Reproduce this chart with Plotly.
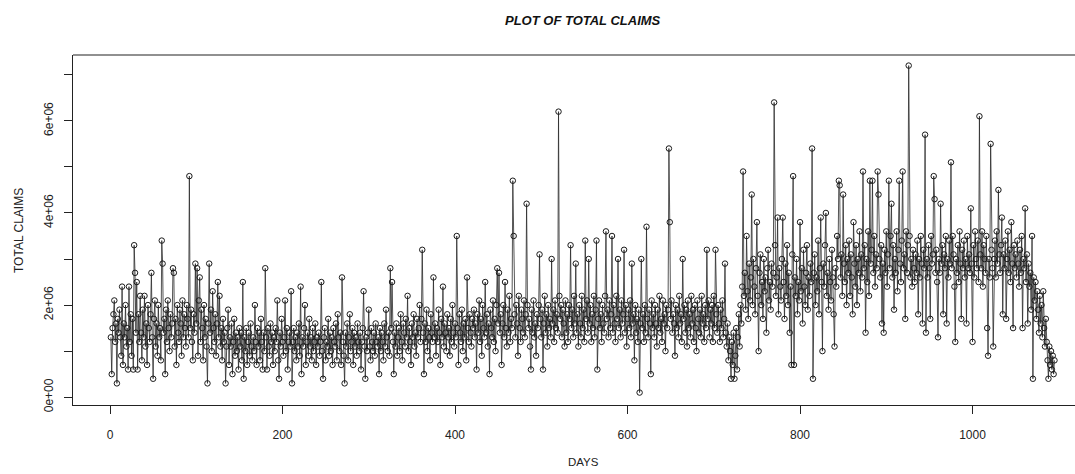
import plotly.graph_objects as go

# Daily total claims, in units of 100,000
claims_1e5 = [
    13, 5, 15, 18, 21, 12, 16, 3, 17, 14, 19, 13, 9, 24, 7,
    16, 13, 20, 11, 15, 6, 24, 12, 18, 9, 17, 6, 33, 27, 14,
    25, 6, 18, 12, 22, 14, 8, 19, 13, 22, 11, 16, 7, 20, 15,
    12, 18, 27, 13, 4, 17, 21, 11, 16, 9, 20, 13, 15, 8, 34,
    29, 14, 17, 5, 19, 12, 21, 15, 10, 18, 13, 16, 28, 27, 11,
    17, 7, 20, 14, 12, 19, 16, 9, 21, 13, 18, 15, 11, 20, 17,
    13, 48, 15, 19, 12, 8, 18, 14, 29, 16, 28, 9, 21, 26, 12,
    19, 15, 8, 20, 13, 17, 11, 3, 16, 29, 14, 19, 10, 23, 15,
    12, 18, 9, 16, 25, 13, 22, 11, 15, 8, 17, 12, 14, 3, 11,
    15, 19, 7, 13, 11, 16, 5, 12, 17, 9, 14, 10, 13, 6, 15,
    11, 14, 8, 25, 4, 13, 10, 15, 7, 12, 14, 9, 16, 11, 8,
    13, 10, 20, 12, 7, 15, 11, 14, 8, 17, 12, 6, 14, 10, 28,
    13, 6, 15, 11, 9, 16, 12, 14, 7, 13, 10, 15, 12, 21, 8,
    4, 14, 11, 17, 12, 9, 13, 21, 10, 15, 6, 12, 14, 11, 23,
    3, 12, 15, 10, 13, 8, 14, 11, 16, 9, 24, 5, 13, 11, 15,
    20, 7, 12, 14, 9, 17, 11, 13, 8, 15, 10, 12, 16, 7, 13,
    11, 14, 9, 12, 25, 10, 4, 13, 15, 8, 12, 11, 17, 9, 14,
    10, 13, 7, 15, 12, 11, 16, 8, 18, 13, 10, 14, 7, 26, 12,
    9, 3, 14, 11, 16, 8, 13, 18, 10, 12, 15, 7, 14, 11, 13,
    9, 16, 12, 10, 14, 6, 12, 15, 23, 11, 4, 13, 10, 14, 19,
    11, 8, 15, 12, 10, 14, 9, 16, 12, 11, 13, 5, 15, 10, 14,
    12, 8, 16, 11, 19, 13, 10, 14, 9, 28, 15, 25, 12, 5, 14,
    11, 16, 9, 13, 15, 10, 18, 12, 8, 16, 14, 11, 17, 13, 22,
    10, 15, 12, 7, 16, 13, 18, 11, 14, 9, 17, 13, 15, 20, 12,
    17, 32, 14, 5, 16, 12, 19, 10, 15, 13, 8, 18, 14, 12, 26,
    13, 16, 9, 15, 12, 19, 14, 7, 17, 13, 24, 11, 16, 14, 10,
    18, 13, 15, 9, 17, 12, 20, 14, 11, 16, 13, 35, 15, 7, 18,
    14, 12, 19, 10, 16, 13, 17, 8, 26, 15, 12, 18, 14, 11, 17,
    15, 19, 13, 16, 6, 18, 14, 21, 12, 17, 9, 20, 15, 13, 25,
    14, 18, 11, 16, 5, 19, 15, 13, 21, 12, 17, 10, 20, 28, 16,
    27, 14, 18, 7, 16, 20, 13, 25, 15, 11, 19, 14, 22, 12, 17,
    15, 47, 35, 18, 13, 20, 16, 9, 22, 15, 12, 19, 17, 14, 21,
    13, 18, 42, 20, 15, 17, 11, 6, 19, 14, 21, 13, 16, 9, 18,
    15, 20, 31, 17, 13, 19, 6, 16, 22, 14, 18, 11, 20, 15, 17,
    13, 30, 16, 19, 12, 21, 15, 18, 14, 62, 22, 17, 20, 13, 19,
    16, 11, 21, 14, 18, 12, 20, 17, 33, 15, 19, 13, 22, 16, 29,
    14, 18, 11, 20, 16, 13, 22, 15, 19, 12, 34, 17, 21, 14, 30,
    16, 20, 12, 18, 15, 22, 13, 19, 34, 6, 17, 21, 15, 18, 12,
    20, 16, 14, 22, 36, 17, 19, 13, 21, 15, 18, 35, 14, 20, 16,
    12, 22, 17, 30, 15, 19, 13, 21, 16, 18, 32, 14, 20, 11, 17,
    19, 15, 21, 13, 29, 16, 18, 8, 20, 14, 17, 12, 19, 1, 16,
    30, 15, 18, 12, 20, 14, 37, 17, 13, 19, 16, 5, 21, 15, 18,
    13, 20, 16, 11, 19, 15, 22, 14, 17, 12, 21, 16, 18, 10, 20,
    15, 19, 54, 38, 17, 21, 14, 18, 16, 9, 20, 15, 19, 13, 22,
    16, 18, 12, 30, 17, 20, 14, 19, 11, 21, 15, 18, 13, 22, 16,
    19, 12, 20, 15, 10, 21, 17, 14, 19, 13, 22, 16, 18, 12, 20,
    15, 32, 17, 21, 13, 19, 16, 20, 12, 22, 15, 32, 18, 14, 20,
    16, 12, 19, 15, 21, 13, 17, 29, 14, 11, 16, 8, 13, 10, 4,
    12, 7, 14, 4, 9, 15, 6, 13, 18, 11, 20, 16, 24, 49, 22,
    27, 19, 35, 23, 17, 29, 21, 26, 44, 20, 30, 24, 18, 28, 38,
    22, 10, 27, 31, 20, 25, 17, 30, 23, 26, 14, 28, 32, 21, 25,
    19, 29, 24, 27, 64, 33, 22, 26, 39, 18, 28, 24, 21, 30, 39,
    25, 17, 29, 22, 33, 20, 27, 14, 24, 7, 31, 48, 7, 26, 22,
    30, 18, 25, 21, 38, 23, 28, 16, 32, 24, 20, 27, 33, 19, 26,
    22, 29, 25, 54, 4, 27, 31, 20, 26, 23, 34, 18, 28, 39, 25,
    10, 29, 24, 33, 40, 22, 27, 19, 30, 25, 21, 32, 26, 18, 11,
    28, 24, 35, 30, 47, 46, 26, 31, 22, 44, 29, 25, 33, 20, 30,
    27, 34, 22, 31, 26, 18, 38, 29, 24, 33, 20, 30, 27, 36, 23,
    31, 26, 49, 28, 33, 14, 30, 25, 36, 22, 47, 29, 32, 47, 27,
    35, 24, 31, 28, 49, 44, 30, 26, 33, 16, 29, 14, 32, 27, 36,
    24, 31, 47, 28, 35, 42, 26, 33, 19, 30, 27, 36, 23, 32, 47,
    29, 25, 34, 49, 28, 31, 17, 36, 27, 33, 72, 35, 26, 30, 24,
    32, 28, 25, 31, 27, 34, 18, 30, 26, 35, 29, 16, 32, 28, 57,
    14, 30, 26, 33, 28, 17, 35, 29, 31, 48, 43, 27, 32, 25, 13,
    30, 27, 42, 29, 33, 18, 31, 28, 35, 16, 30, 26, 34, 29, 51,
    28, 35, 31, 24, 12, 30, 27, 33, 25, 36, 29, 17, 32, 28, 34,
    26, 30, 16, 35, 28, 31, 27, 41, 29, 12, 33, 26, 36, 30, 28,
    34, 25, 61, 31, 28, 36, 24, 33, 30, 27, 35, 15, 9, 30, 26,
    55, 32, 28, 11, 30, 34, 26, 36, 29, 45, 31, 27, 33, 39, 18,
    31, 28, 34, 17, 30, 36, 27, 32, 25, 38, 29, 15, 33, 28, 31,
    26, 34, 29, 24, 32, 27, 35, 15, 30, 28, 41, 25, 31, 16, 29,
    24, 27, 19, 35, 4, 26, 21, 25, 17, 23, 19, 14, 22, 16, 20,
    13, 23, 15, 11, 17, 12, 8, 4, 11, 7, 10, 6, 9, 5, 8,
]

total_claims = [v * 1e5 for v in claims_1e5]
days = list(range(1, len(total_claims) + 1))

x_tick_vals = [0, 200, 400, 600, 800, 1000]
y_tick_vals = [0, 1e6, 2e6, 3e6, 4e6, 5e6, 6e6, 7e6]
y_tick_text = ["0e+00", "", "2e+06", "", "4e+06", "", "6e+06", ""]

FONT = "Liberation Sans, Arial, sans-serif"

fig = go.Figure()
fig.add_trace(go.Scatter(
    x=days, y=total_claims, mode="lines+markers",
    line=dict(color="#2a2a2a", width=0.8),
    marker=dict(symbol="circle-open", size=5.5, color="#1a1a1a", line=dict(width=1)),
    showlegend=False, hoverinfo="x+y",
))

fig.update_layout(
    width=1075, height=474,
    margin=dict(l=73, r=0, t=55, b=69, autoexpand=False),
    paper_bgcolor="white", plot_bgcolor="white",
    font=dict(family=FONT, size=12, color="#222"),
    title=dict(text="<b><i>PLOT OF TOTAL CLAIMS</i></b>", x=0.542, xref="container",
               xanchor="center", y=1 - 20 / 474, yref="container", yanchor="middle",
               font=dict(size=13, color="#111", family=FONT)),
    xaxis=dict(range=[-42.9, 1118.8], tickvals=x_tick_vals, ticks="outside", ticklen=8,
               tickcolor="#222", showline=True, linecolor="#222", linewidth=1.2,
               showgrid=False, zeroline=False, ticklabelstandoff=10, automargin=False,
               tickfont=dict(size=12, color="#222")),
    yaxis=dict(range=[-0.17e6, 7.43e6], tickvals=y_tick_vals, ticktext=y_tick_text,
               ticks="outside", ticklen=8, tickcolor="#222", showline=True,
               linecolor="#222", linewidth=1.2, showgrid=False, zeroline=False,
               tickangle=-90, ticklabelstandoff=6, automargin=False,
               tickfont=dict(size=12, color="#222")),
    shapes=[dict(type="line", xref="paper", yref="paper", x0=0, x1=1, y0=1, y1=1,
                 line=dict(color="#222", width=1.2))],
    annotations=[
        dict(text="DAYS", xref="paper", yref="paper", x=0.509, y=-0.163,
             showarrow=False, font=dict(size=11.5, color="#222"), xanchor="center", yanchor="middle"),
        dict(text="TOTAL CLAIMS", xref="paper", yref="paper", x=-0.0539, y=0.5,
             showarrow=False, textangle=-90, font=dict(size=12, color="#222"),
             xanchor="center", yanchor="middle"),
    ],
)

fig.write_html("out.html", config={"displayModeBar": False},
               post_script="document.body.style.margin='0';document.body.style.overflow='hidden';")
